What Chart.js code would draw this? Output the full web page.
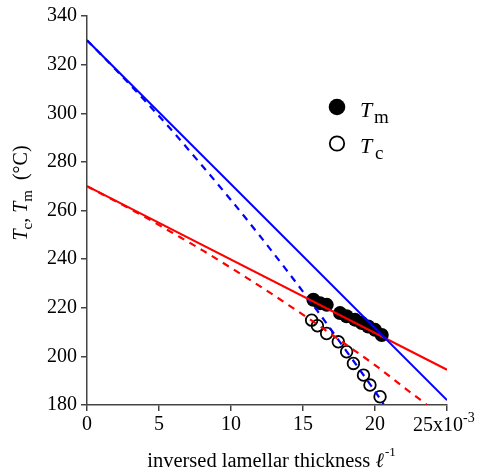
<!DOCTYPE html>
<html><head><meta charset="utf-8">
<script src="https://cdn.jsdelivr.net/npm/chart.js@4/dist/chart.umd.min.js"></script>
<style>html,body{margin:0;padding:0;background:#fff}#wrap{width:481px;height:470px}</style>
</head><body><div id="wrap"><canvas id="c" width="481" height="470"></canvas></div>
<script>
// ---- data ----
const xTickValues = [0, 5, 10, 15, 20, 25];
const yTickValues = [180, 200, 220, 240, 260, 280, 300, 320, 340];

// melting temperatures Tm (filled circles), x in units of 1e-3
const tmX = [15.72, 16.18, 16.65, 17.57, 18.03, 18.61, 19.08, 19.53, 20.0, 20.47];
const tmY = [223.3, 221.9, 221.2, 217.8, 216.5, 215.1, 213.7, 212.3, 210.9, 208.8];

// crystallisation temperatures Tc (open circles)
const tcX = [15.6, 16.0, 16.64, 17.45, 18.03, 18.5, 19.2, 19.65, 20.35];
const tcY = [214.9, 212.6, 209.4, 206.0, 201.9, 197.1, 192.3, 188.2, 183.4];

// straight fits (solid)
const redLineX = [0, 25];
const redLineY = [270, 194.5];
const blueLineX = [0, 25];
const blueLineY = [330, 182];

// curved fits (dashed)
const redCurveX = [0, 2, 4, 6, 8, 10, 12, 14, 16, 18, 20, 22, 23.6];
const redCurveY = [270, 263.8, 257.4, 250.6, 243.7, 236.4, 228.9, 221.1, 213.1, 204.8, 196.4, 187.3, 180.1];
const blueCurveX = [0, 2, 4, 6, 8, 10, 12, 14, 16, 18, 20, 20.6];
const blueCurveY = [330, 317.9, 305.3, 292.2, 278.4, 264.3, 249.6, 234.4, 218.7, 202.3, 185.6, 180.4];

const pts = (xs, ys) => xs.map((x, i) => ({x: x, y: ys[i]}));

const SERIF = '"Liberation Serif", "Times New Roman", serif';
const AXIS = '#444';

const decor = {
  id: 'decor',
  afterDraw(chart) {
    const ctx = chart.ctx;
    const xs = chart.scales.x;
    ctx.save();
    ctx.fillStyle = '#000';
    ctx.textBaseline = 'alphabetic';

    // last x tick label "25x10^-3"
    const x25 = xs.getPixelForValue(25);
    ctx.font = '20px ' + SERIF;
    ctx.textAlign = 'left';
    const lab = '25x10';
    const w = ctx.measureText(lab).width;
    const sx = x25 - 34;
    ctx.fillText(lab, sx, 431);
    ctx.font = '14px ' + SERIF;
    ctx.fillText('-3', sx + w, 422);

    // x title
    const XF = 20.5;
    ctx.font = XF + 'px ' + SERIF;
    const t1 = 'inversed lamellar thickness ';
    const w1 = ctx.measureText(t1).width;
    ctx.font = 'italic ' + XF + 'px ' + SERIF;
    const w2 = ctx.measureText('\u2113').width;
    ctx.font = '13px ' + SERIF;
    const w3 = ctx.measureText('-1').width;
    let tx = 271 - (w1 + w2 + w3) / 2;
    ctx.font = XF + 'px ' + SERIF; ctx.fillText(t1, tx, 467); tx += w1;
    ctx.font = 'italic ' + XF + 'px ' + SERIF; ctx.fillText('\u2113', tx, 467); tx += w2 + 1;
    ctx.font = '13px ' + SERIF; ctx.fillText('-1', tx, 456);

    // y title (rotated)
    const segs = [
      {t: 'T', f: 'italic 20px ', dy: 0},
      {t: 'c', f: '15px ', dy: 5},
      {t: ', ', f: '20px ', dy: 0},
      {t: 'T', f: 'italic 20px ', dy: 0},
      {t: 'm', f: '15px ', dy: 5},
      {t: '  (\u00B0C)', f: '20px ', dy: 0}
    ];
    let total = 0;
    segs.forEach(s => { ctx.font = s.f + SERIF; s.w = ctx.measureText(s.t).width; total += s.w; });
    ctx.translate(27, 193);
    ctx.rotate(-Math.PI / 2);
    let px = -total / 2;
    segs.forEach(s => { ctx.font = s.f + SERIF; ctx.fillText(s.t, px, s.dy); px += s.w; });
    ctx.setTransform(1, 0, 0, 1, 0, 0);

    // legend
    ctx.beginPath();
    ctx.arc(337, 107, 8.3, 0, Math.PI * 2);
    ctx.fillStyle = '#000';
    ctx.fill();
    ctx.beginPath();
    ctx.arc(337, 143.5, 7.2, 0, Math.PI * 2);
    ctx.lineWidth = 1.8;
    ctx.strokeStyle = '#000';
    ctx.stroke();
    ctx.font = 'italic 22px ' + SERIF;
    ctx.fillText('T', 360, 117);
    ctx.fillText('T', 360, 153);
    ctx.font = '19px ' + SERIF;
    ctx.fillText('m', 374, 123);
    ctx.fillText('c', 375, 159);
    ctx.restore();
  }
};

new Chart(document.getElementById('c'), {
  type: 'scatter',
  data: {
    datasets: [
      {label: 'Tm', data: pts(tmX, tmY), order: 3, pointRadius: 7, pointBackgroundColor: '#000', pointBorderWidth: 0, showLine: false},
      {label: 'Tc', data: pts(tcX, tcY), order: 3, pointRadius: 5.8, pointBackgroundColor: 'rgba(0,0,0,0)', pointBorderColor: '#000', pointBorderWidth: 1.8, showLine: false},
      {label: 'Tc curve', data: pts(blueCurveX, blueCurveY), order: 2, showLine: true, pointRadius: 0, borderColor: '#0000ff', borderWidth: 2.2, borderDash: [7, 6], cubicInterpolationMode: 'monotone'},
      {label: 'Tm curve', data: pts(redCurveX, redCurveY), order: 2, showLine: true, pointRadius: 0, borderColor: '#ff0000', borderWidth: 2.2, borderDash: [7, 6], cubicInterpolationMode: 'monotone'},
      {label: 'Tc line', data: pts(blueLineX, blueLineY), order: 1, showLine: true, pointRadius: 0, borderColor: '#0000ff', borderWidth: 2},
      {label: 'Tm line', data: pts(redLineX, redLineY), order: 1, showLine: true, pointRadius: 0, borderColor: '#ff0000', borderWidth: 2}
    ]
  },
  options: {
    responsive: false,
    animation: false,
    devicePixelRatio: 1,
    layout: {padding: {left: 0, right: 34, top: 16, bottom: 0}},
    plugins: {legend: {display: false}, tooltip: {enabled: false}},
    scales: {
      x: {
        type: 'linear', min: 0, max: 25,
        afterBuildTicks: s => { s.ticks = xTickValues.map(v => ({value: v})); },
        afterFit: s => { s.height = 65; },
        ticks: {color: '#000', font: {family: SERIF, size: 20}, padding: 2, maxRotation: 0,
          callback: v => (v === 25 ? '' : String(v))},
        grid: {drawOnChartArea: false, drawTicks: true, tickLength: 6, color: AXIS, lineWidth: 1.5},
        border: {display: true, color: AXIS, width: 1.5}
      },
      y: {
        type: 'linear', min: 180, max: 340,
        afterBuildTicks: s => { s.ticks = yTickValues.map(v => ({value: v})); },
        afterFit: s => { s.width = 87; },
        ticks: {color: '#000', font: {family: SERIF, size: 20}, padding: 4},
        grid: {drawOnChartArea: false, drawTicks: true, tickLength: 6, color: AXIS, lineWidth: 1.5},
        border: {display: true, color: AXIS, width: 1.5}
      }
    }
  },
  plugins: [decor]
});
</script>
</body></html>
